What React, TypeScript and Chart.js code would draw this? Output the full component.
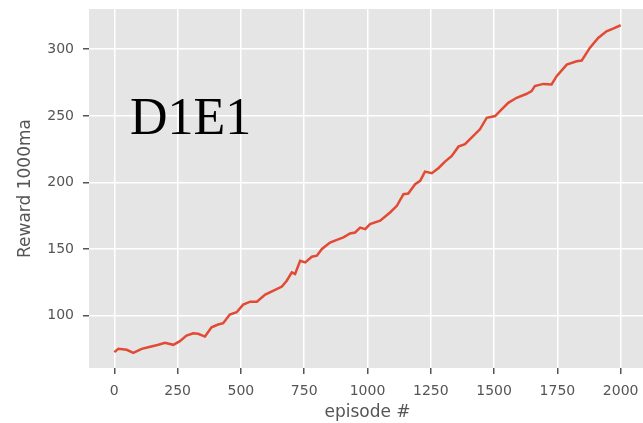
import React, { useEffect, useRef } from "react";
import { Chart, registerables } from "chart.js";

Chart.register(...registerables);

const episodes = [0, 16, 49, 75, 108, 134, 174, 200, 233, 259, 285, 312, 331, 358, 384, 410, 430, 456, 483, 509, 537, 563, 596, 635, 662, 681, 701, 714, 734, 754, 780, 800, 820, 852, 879, 905, 931, 951, 971, 991, 1010, 1050, 1089, 1116, 1142, 1161, 1188, 1208, 1227, 1254, 1280, 1306, 1333, 1359, 1385, 1411, 1444, 1471, 1504, 1523, 1556, 1589, 1629, 1648, 1661, 1694, 1727, 1747, 1787, 1826, 1846, 1878, 1911, 1944, 1970, 2000];
const rewards = [72.7, 75.2, 74.5, 72.2, 75.2, 76.4, 78.2, 79.7, 78.2, 80.9, 85.2, 86.9, 86.5, 84.4, 91.4, 93.4, 94.4, 100.9, 102.6, 108.4, 110.6, 110.6, 115.9, 119.4, 121.9, 126.3, 132.6, 131.4, 141.3, 140.0, 144.3, 145.1, 150.1, 155.0, 157.0, 158.8, 161.8, 162.5, 166.2, 165.0, 168.8, 171.3, 177.5, 182.5, 191.2, 191.7, 198.7, 201.2, 208.2, 207.0, 210.7, 215.7, 219.9, 226.9, 228.7, 233.6, 239.9, 248.6, 249.9, 253.6, 259.8, 263.6, 266.6, 268.6, 272.3, 274.0, 273.6, 279.8, 288.5, 291.0, 291.5, 301.0, 308.5, 313.5, 315.5, 318.0];
const xTicks = [0, 250, 500, 750, 1000, 1250, 1500, 1750, 2000];
const yTicks = [100, 150, 200, 250, 300];
const annotation = "D1E1";
const xTitle = "episode #";
const yTitle = "Reward 1000ma";

export default function App() {
  const ref = useRef<HTMLCanvasElement | null>(null);
  useEffect(() => {
    if (!ref.current) return;
    const bgPlugin = {
      id: "bg",
      beforeDraw(chart: any) {
        const { ctx, chartArea } = chart;
        ctx.save();
        ctx.fillStyle = "#E5E5E5";
        ctx.fillRect(chartArea.left, chartArea.top, chartArea.right - chartArea.left, chartArea.bottom - chartArea.top);
        ctx.restore();
      },
      afterDraw(chart: any) {
        const { ctx, chartArea } = chart;
        ctx.save();
        ctx.fillStyle = "#000";
        ctx.font = "52px 'Liberation Serif', serif";
        ctx.textBaseline = "alphabetic";
        ctx.textAlign = "left";
        ctx.fillText(annotation, chartArea.left + 41, chartArea.top + 125);
        ctx.restore();
      },
    };
    const zeroPad = (s: any) => {
      s.paddingTop = 0;
      s.paddingBottom = 0;
      s.paddingLeft = 0;
      s.paddingRight = 0;
    };
    const tickFont = { family: "'DejaVu Sans', sans-serif", size: 14 };
    const titleFont = { family: "'DejaVu Sans', sans-serif", size: 17 };
    const chart = new Chart(ref.current, {
      type: "line",
      data: {
        datasets: [
          {
            data: episodes.map((e, i) => ({ x: e, y: rewards[i] })),
            borderColor: "#E24A33",
            borderWidth: 2.5,
            pointRadius: 0,
            tension: 0,
            fill: false,
          },
        ],
      },
      options: {
        responsive: false,
        animation: false,
        layout: { padding: { top: 9, right: 1, left: 0, bottom: 0 } },
        plugins: { legend: { display: false }, tooltip: { enabled: false } },
        scales: {
          x: {
            type: "linear",
            min: -100,
            max: 2100,
            afterBuildTicks: (s: any) => {
              s.ticks = xTicks.map((v) => ({ value: v }));
            },
            afterFit: (s: any) => {
              s.height = 55;
              zeroPad(s);
            },
            grid: { color: "#FFFFFF", lineWidth: 1.5, tickColor: "#555555", tickLength: 6 },
            border: { display: false },
            ticks: { font: tickFont, color: "#555555", padding: 9, maxRotation: 0, callback: (v: any) => String(v) },
            title: { display: true, text: xTitle, font: titleFont, color: "#555555", padding: { top: 0, bottom: 0 } },
          },
          y: {
            type: "linear",
            min: 60.8,
            max: 330.2,
            afterBuildTicks: (s: any) => {
              s.ticks = yTicks.map((v) => ({ value: v }));
            },
            afterFit: (s: any) => {
              s.width = 89;
              zeroPad(s);
            },
            grid: { color: "#FFFFFF", lineWidth: 1.5, tickColor: "#555555", tickLength: 6 },
            border: { display: false },
            ticks: { font: tickFont, color: "#555555", padding: 9, callback: (v: any) => String(v) },
            title: { display: true, text: yTitle, font: titleFont, color: "#555555", padding: { top: 15, bottom: 0 } },
          },
        },
      },
      plugins: [bgPlugin],
    } as any);
    return () => chart.destroy();
  }, []);
  return (
    <div style={{ position: "fixed", left: 0, top: 0, width: 643, height: 423, overflow: "hidden", background: "#fff" }}>
      <canvas ref={ref} width={647} height={423} style={{ width: 647, height: 423, display: "block" }} />
    </div>
  );
}
